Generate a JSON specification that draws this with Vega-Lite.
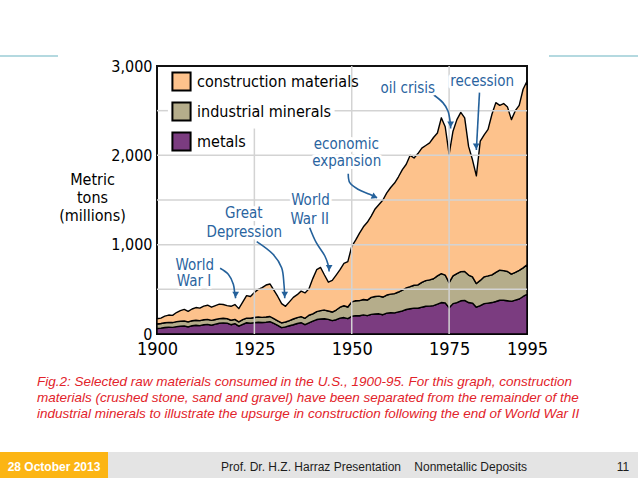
{
  "$schema": "https://vega.github.io/schema/vega-lite/v6.json",
  "padding": {"left": 0, "top": 55, "right": 0, "bottom": 0},
  "background": "#ffffff",
  "spacing": 0,
  "bounds": "full",
  "config": {"view": {"stroke": null}},
  "datasets": {
    "tons": [
      {"year":1900,"material":"metals","tons":62},{"year":1900,"material":"industrial minerals","tons":50},{"year":1900,"material":"construction materials","tons":58},
      {"year":1901,"material":"metals","tons":66},{"year":1901,"material":"industrial minerals","tons":52},{"year":1901,"material":"construction materials","tons":60},
      {"year":1902,"material":"metals","tons":72},{"year":1902,"material":"industrial minerals","tons":54},{"year":1902,"material":"construction materials","tons":74},
      {"year":1903,"material":"metals","tons":76},{"year":1903,"material":"industrial minerals","tons":54},{"year":1903,"material":"construction materials","tons":82},
      {"year":1904,"material":"metals","tons":74},{"year":1904,"material":"industrial minerals","tons":54},{"year":1904,"material":"construction materials","tons":80},
      {"year":1905,"material":"metals","tons":82},{"year":1905,"material":"industrial minerals","tons":56},{"year":1905,"material":"construction materials","tons":102},
      {"year":1906,"material":"metals","tons":86},{"year":1906,"material":"industrial minerals","tons":56},{"year":1906,"material":"construction materials","tons":120},
      {"year":1907,"material":"metals","tons":90},{"year":1907,"material":"industrial minerals","tons":56},{"year":1907,"material":"construction materials","tons":130},
      {"year":1908,"material":"metals","tons":80},{"year":1908,"material":"industrial minerals","tons":56},{"year":1908,"material":"construction materials","tons":118},
      {"year":1909,"material":"metals","tons":92},{"year":1909,"material":"industrial minerals","tons":56},{"year":1909,"material":"construction materials","tons":132},
      {"year":1910,"material":"metals","tons":98},{"year":1910,"material":"industrial minerals","tons":56},{"year":1910,"material":"construction materials","tons":142},
      {"year":1911,"material":"metals","tons":94},{"year":1911,"material":"industrial minerals","tons":56},{"year":1911,"material":"construction materials","tons":140},
      {"year":1912,"material":"metals","tons":104},{"year":1912,"material":"industrial minerals","tons":56},{"year":1912,"material":"construction materials","tons":152},
      {"year":1913,"material":"metals","tons":108},{"year":1913,"material":"industrial minerals","tons":56},{"year":1913,"material":"construction materials","tons":158},
      {"year":1914,"material":"metals","tons":98},{"year":1914,"material":"industrial minerals","tons":54},{"year":1914,"material":"construction materials","tons":148},
      {"year":1915,"material":"metals","tons":110},{"year":1915,"material":"industrial minerals","tons":52},{"year":1915,"material":"construction materials","tons":156},
      {"year":1916,"material":"metals","tons":120},{"year":1916,"material":"industrial minerals","tons":52},{"year":1916,"material":"construction materials","tons":162},
      {"year":1917,"material":"metals","tons":124},{"year":1917,"material":"industrial minerals","tons":52},{"year":1917,"material":"construction materials","tons":154},
      {"year":1918,"material":"metals","tons":122},{"year":1918,"material":"industrial minerals","tons":50},{"year":1918,"material":"construction materials","tons":146},
      {"year":1919,"material":"metals","tons":104},{"year":1919,"material":"industrial minerals","tons":50},{"year":1919,"material":"construction materials","tons":156},
      {"year":1920,"material":"metals","tons":116},{"year":1920,"material":"industrial minerals","tons":48},{"year":1920,"material":"construction materials","tons":166},
      {"year":1921,"material":"metals","tons":88},{"year":1921,"material":"industrial minerals","tons":48},{"year":1921,"material":"construction materials","tons":148},
      {"year":1922,"material":"metals","tons":108},{"year":1922,"material":"industrial minerals","tons":52},{"year":1922,"material":"construction materials","tons":196},
      {"year":1923,"material":"metals","tons":126},{"year":1923,"material":"industrial minerals","tons":52},{"year":1923,"material":"construction materials","tons":252},
      {"year":1924,"material":"metals","tons":120},{"year":1924,"material":"industrial minerals","tons":56},{"year":1924,"material":"construction materials","tons":244},
      {"year":1925,"material":"metals","tons":127},{"year":1925,"material":"industrial minerals","tons":57},{"year":1925,"material":"construction materials","tons":281},
      {"year":1926,"material":"metals","tons":132},{"year":1926,"material":"industrial minerals","tons":58},{"year":1926,"material":"construction materials","tons":310},
      {"year":1927,"material":"metals","tons":128},{"year":1927,"material":"industrial minerals","tons":58},{"year":1927,"material":"construction materials","tons":334},
      {"year":1928,"material":"metals","tons":132},{"year":1928,"material":"industrial minerals","tons":58},{"year":1928,"material":"construction materials","tons":358},
      {"year":1929,"material":"metals","tons":138},{"year":1929,"material":"industrial minerals","tons":58},{"year":1929,"material":"construction materials","tons":364},
      {"year":1930,"material":"metals","tons":118},{"year":1930,"material":"industrial minerals","tons":54},{"year":1930,"material":"construction materials","tons":318},
      {"year":1931,"material":"metals","tons":96},{"year":1931,"material":"industrial minerals","tons":52},{"year":1931,"material":"construction materials","tons":272},
      {"year":1932,"material":"metals","tons":72},{"year":1932,"material":"industrial minerals","tons":52},{"year":1932,"material":"construction materials","tons":216},
      {"year":1933,"material":"metals","tons":80},{"year":1933,"material":"industrial minerals","tons":54},{"year":1933,"material":"construction materials","tons":176},
      {"year":1934,"material":"metals","tons":92},{"year":1934,"material":"industrial minerals","tons":58},{"year":1934,"material":"construction materials","tons":210},
      {"year":1935,"material":"metals","tons":104},{"year":1935,"material":"industrial minerals","tons":64},{"year":1935,"material":"construction materials","tons":242},
      {"year":1936,"material":"metals","tons":118},{"year":1936,"material":"industrial minerals","tons":66},{"year":1936,"material":"construction materials","tons":256},
      {"year":1937,"material":"metals","tons":126},{"year":1937,"material":"industrial minerals","tons":68},{"year":1937,"material":"construction materials","tons":286},
      {"year":1938,"material":"metals","tons":104},{"year":1938,"material":"industrial minerals","tons":72},{"year":1938,"material":"construction materials","tons":284},
      {"year":1939,"material":"metals","tons":124},{"year":1939,"material":"industrial minerals","tons":86},{"year":1939,"material":"construction materials","tons":295},
      {"year":1940,"material":"metals","tons":144},{"year":1940,"material":"industrial minerals","tons":82},{"year":1940,"material":"construction materials","tons":394},
      {"year":1941,"material":"metals","tons":162},{"year":1941,"material":"industrial minerals","tons":88},{"year":1941,"material":"construction materials","tons":470},
      {"year":1942,"material":"metals","tons":168},{"year":1942,"material":"industrial minerals","tons":94},{"year":1942,"material":"construction materials","tons":483},
      {"year":1943,"material":"metals","tons":170},{"year":1943,"material":"industrial minerals","tons":98},{"year":1943,"material":"construction materials","tons":392},
      {"year":1944,"material":"metals","tons":164},{"year":1944,"material":"industrial minerals","tons":94},{"year":1944,"material":"construction materials","tons":322},
      {"year":1945,"material":"metals","tons":150},{"year":1945,"material":"industrial minerals","tons":96},{"year":1945,"material":"construction materials","tons":354},
      {"year":1946,"material":"metals","tons":160},{"year":1946,"material":"industrial minerals","tons":108},{"year":1946,"material":"construction materials","tons":392},
      {"year":1947,"material":"metals","tons":178},{"year":1947,"material":"industrial minerals","tons":122},{"year":1947,"material":"construction materials","tons":420},
      {"year":1948,"material":"metals","tons":184},{"year":1948,"material":"industrial minerals","tons":132},{"year":1948,"material":"construction materials","tons":474},
      {"year":1949,"material":"metals","tons":172},{"year":1949,"material":"industrial minerals","tons":130},{"year":1949,"material":"construction materials","tons":508},
      {"year":1950,"material":"metals","tons":198},{"year":1950,"material":"industrial minerals","tons":162},{"year":1950,"material":"construction materials","tons":620},
      {"year":1951,"material":"metals","tons":206},{"year":1951,"material":"industrial minerals","tons":166},{"year":1951,"material":"construction materials","tons":678},
      {"year":1952,"material":"metals","tons":204},{"year":1952,"material":"industrial minerals","tons":170},{"year":1952,"material":"construction materials","tons":756},
      {"year":1953,"material":"metals","tons":214},{"year":1953,"material":"industrial minerals","tons":172},{"year":1953,"material":"construction materials","tons":814},
      {"year":1954,"material":"metals","tons":206},{"year":1954,"material":"industrial minerals","tons":174},{"year":1954,"material":"construction materials","tons":870},
      {"year":1955,"material":"metals","tons":220},{"year":1955,"material":"industrial minerals","tons":190},{"year":1955,"material":"construction materials","tons":910},
      {"year":1956,"material":"metals","tons":224},{"year":1956,"material":"industrial minerals","tons":196},{"year":1956,"material":"construction materials","tons":980},
      {"year":1957,"material":"metals","tons":226},{"year":1957,"material":"industrial minerals","tons":198},{"year":1957,"material":"construction materials","tons":1026},
      {"year":1958,"material":"metals","tons":216},{"year":1958,"material":"industrial minerals","tons":198},{"year":1958,"material":"construction materials","tons":1086},
      {"year":1959,"material":"metals","tons":234},{"year":1959,"material":"industrial minerals","tons":202},{"year":1959,"material":"construction materials","tons":1144},
      {"year":1960,"material":"metals","tons":238},{"year":1960,"material":"industrial minerals","tons":208},{"year":1960,"material":"construction materials","tons":1194},
      {"year":1961,"material":"metals","tons":236},{"year":1961,"material":"industrial minerals","tons":216},{"year":1961,"material":"construction materials","tons":1238},
      {"year":1962,"material":"metals","tons":248},{"year":1962,"material":"industrial minerals","tons":222},{"year":1962,"material":"construction materials","tons":1290},
      {"year":1963,"material":"metals","tons":258},{"year":1963,"material":"industrial minerals","tons":232},{"year":1963,"material":"construction materials","tons":1350},
      {"year":1964,"material":"metals","tons":274},{"year":1964,"material":"industrial minerals","tons":242},{"year":1964,"material":"construction materials","tons":1384},
      {"year":1965,"material":"metals","tons":282},{"year":1965,"material":"industrial minerals","tons":248},{"year":1965,"material":"construction materials","tons":1470},
      {"year":1966,"material":"metals","tons":290},{"year":1966,"material":"industrial minerals","tons":256},{"year":1966,"material":"construction materials","tons":1424},
      {"year":1967,"material":"metals","tons":288},{"year":1967,"material":"industrial minerals","tons":262},{"year":1967,"material":"construction materials","tons":1470},
      {"year":1968,"material":"metals","tons":300},{"year":1968,"material":"industrial minerals","tons":278},{"year":1968,"material":"construction materials","tons":1502},
      {"year":1969,"material":"metals","tons":310},{"year":1969,"material":"industrial minerals","tons":288},{"year":1969,"material":"construction materials","tons":1512},
      {"year":1970,"material":"metals","tons":312},{"year":1970,"material":"industrial minerals","tons":294},{"year":1970,"material":"construction materials","tons":1534},
      {"year":1971,"material":"metals","tons":318},{"year":1971,"material":"industrial minerals","tons":300},{"year":1971,"material":"construction materials","tons":1582},
      {"year":1972,"material":"metals","tons":334},{"year":1972,"material":"industrial minerals","tons":316},{"year":1972,"material":"construction materials","tons":1600},
      {"year":1973,"material":"metals","tons":352},{"year":1973,"material":"industrial minerals","tons":324},{"year":1973,"material":"construction materials","tons":1744},
      {"year":1974,"material":"metals","tons":348},{"year":1974,"material":"industrial minerals","tons":312},{"year":1974,"material":"construction materials","tons":1660},
      {"year":1975,"material":"metals","tons":294},{"year":1975,"material":"industrial minerals","tons":281},{"year":1975,"material":"construction materials","tons":1435},
      {"year":1976,"material":"metals","tons":340},{"year":1976,"material":"industrial minerals","tons":310},{"year":1976,"material":"construction materials","tons":1620},
      {"year":1977,"material":"metals","tons":352},{"year":1977,"material":"industrial minerals","tons":324},{"year":1977,"material":"construction materials","tons":1724},
      {"year":1978,"material":"metals","tons":372},{"year":1978,"material":"industrial minerals","tons":326},{"year":1978,"material":"construction materials","tons":1782},
      {"year":1979,"material":"metals","tons":376},{"year":1979,"material":"industrial minerals","tons":324},{"year":1979,"material":"construction materials","tons":1720},
      {"year":1980,"material":"metals","tons":352},{"year":1980,"material":"industrial minerals","tons":308},{"year":1980,"material":"construction materials","tons":1440},
      {"year":1981,"material":"metals","tons":346},{"year":1981,"material":"industrial minerals","tons":294},{"year":1981,"material":"construction materials","tons":1310},
      {"year":1982,"material":"metals","tons":300},{"year":1982,"material":"industrial minerals","tons":265},{"year":1982,"material":"construction materials","tons":1205},
      {"year":1983,"material":"metals","tons":318},{"year":1983,"material":"industrial minerals","tons":282},{"year":1983,"material":"construction materials","tons":1560},
      {"year":1984,"material":"metals","tons":340},{"year":1984,"material":"industrial minerals","tons":300},{"year":1984,"material":"construction materials","tons":1590},
      {"year":1985,"material":"metals","tons":346},{"year":1985,"material":"industrial minerals","tons":304},{"year":1985,"material":"construction materials","tons":1640},
      {"year":1986,"material":"metals","tons":352},{"year":1986,"material":"industrial minerals","tons":310},{"year":1986,"material":"construction materials","tons":1798},
      {"year":1987,"material":"metals","tons":364},{"year":1987,"material":"industrial minerals","tons":326},{"year":1987,"material":"construction materials","tons":1900},
      {"year":1988,"material":"metals","tons":378},{"year":1988,"material":"industrial minerals","tons":336},{"year":1988,"material":"construction materials","tons":1846},
      {"year":1989,"material":"metals","tons":378},{"year":1989,"material":"industrial minerals","tons":332},{"year":1989,"material":"construction materials","tons":1870},
      {"year":1990,"material":"metals","tons":372},{"year":1990,"material":"industrial minerals","tons":328},{"year":1990,"material":"construction materials","tons":1840},
      {"year":1991,"material":"metals","tons":366},{"year":1991,"material":"industrial minerals","tons":304},{"year":1991,"material":"construction materials","tons":1730},
      {"year":1992,"material":"metals","tons":380},{"year":1992,"material":"industrial minerals","tons":310},{"year":1992,"material":"construction materials","tons":1810},
      {"year":1993,"material":"metals","tons":392},{"year":1993,"material":"industrial minerals","tons":320},{"year":1993,"material":"construction materials","tons":1848},
      {"year":1994,"material":"metals","tons":420},{"year":1994,"material":"industrial minerals","tons":320},{"year":1994,"material":"construction materials","tons":2000},
      {"year":1995,"material":"metals","tons":445},{"year":1995,"material":"industrial minerals","tons":330},{"year":1995,"material":"construction materials","tons":2055}
    ],
    "hgrid": [
      {"tons":500,"year":1900,"year_end":1995},{"tons":1000,"year":1900,"year_end":1995},{"tons":1500,"year":1900,"year_end":1995},
      {"tons":2000,"year":1900,"year_end":1995},{"tons":2500,"year":1900,"year_end":1902.8},{"tons":2500,"year":1945.6,"year_end":1995}
    ],
    "vgrid": [
      {"year":1925,"tons":0,"tons_top":2300},{"year":1950,"tons":0,"tons_top":3000},{"year":1975,"tons":0,"tons_top":3000}
    ],
    "arrows": [
      {"arrow":"wwi","step":1,"year":1916.2,"tons":736},{"arrow":"wwi","step":2,"year":1918.3,"tons":669},{"arrow":"wwi","step":3,"year":1919.6,"tons":557},{"arrow":"wwi","step":4,"year":1920.0,"tons":444},{"arrow":"wwi","step":5,"year":1920.2,"tons":400},
      {"arrow":"depression","step":1,"year":1925.6,"tons":1034},{"arrow":"depression","step":2,"year":1929.8,"tons":892},{"arrow":"depression","step":3,"year":1932.0,"tons":742},{"arrow":"depression","step":4,"year":1932.6,"tons":557},{"arrow":"depression","step":5,"year":1932.8,"tons":400},
      {"arrow":"wwii","step":1,"year":1939.2,"tons":1190},{"arrow":"wwii","step":2,"year":1940.9,"tons":1022},{"arrow":"wwii","step":3,"year":1943.1,"tons":873},{"arrow":"wwii","step":4,"year":1943.9,"tons":780},{"arrow":"wwii","step":5,"year":1944.2,"tons":700},
      {"arrow":"economic","step":1,"year":1949.1,"tons":1795},{"arrow":"economic","step":2,"year":1949.5,"tons":1694},{"arrow":"economic","step":3,"year":1951.6,"tons":1620},{"arrow":"economic","step":4,"year":1954.6,"tons":1564},{"arrow":"economic","step":5,"year":1956.5,"tons":1526},
      {"arrow":"oil","step":1,"year":1970.8,"tons":2684},{"arrow":"oil","step":2,"year":1973.4,"tons":2590},{"arrow":"oil","step":3,"year":1974.7,"tons":2497},{"arrow":"oil","step":4,"year":1975.3,"tons":2366},{"arrow":"oil","step":5,"year":1975.4,"tons":2300},
      {"arrow":"recession","step":1,"year":1982.8,"tons":2702},{"arrow":"recession","step":2,"year":1982.0,"tons":2060}
    ],
    "heads": [
      {"arrow":"wwi","year":1920.2,"tons":440},
      {"arrow":"depression","year":1932.8,"tons":440},
      {"arrow":"wwii","year":1944.2,"tons":740},
      {"arrow":"economic","year":1955.9,"tons":1535},
      {"arrow":"oil","year":1975.4,"tons":2345},
      {"arrow":"recession","year":1981.95,"tons":2100}
    ],
    "notes": [
      {"note":"World","year":1909.7,"tons":773},{"note":"War I","year":1909.5,"tons":594},
      {"note":"Great","year":1922.3,"tons":1355},{"note":"Depression","year":1922.4,"tons":1137},
      {"note":"World","year":1939.4,"tons":1501},{"note":"War II","year":1939.2,"tons":1288},
      {"note":"economic","year":1948.6,"tons":2128},{"note":"expansion","year":1948.7,"tons":1937},
      {"note":"oil crisis","year":1964.4,"tons":2758},
      {"note":"recession","year":1983.5,"tons":2833}
    ]
  },
  "vconcat": [
    {
      "hconcat": [
        {"width": 58, "height": 2, "view": {"fill": "#b4d9e0", "stroke": null}, "data": {"values": []}, "mark": "text"},
        {"width": 491, "height": 2, "data": {"values": []}, "mark": "text"},
        {"width": 89, "height": 2, "view": {"fill": "#b4d9e0", "stroke": null}, "data": {"values": []}, "mark": "text"}
      ],
      "spacing": 0,
      "bounds": "flush"
    },
    {
      "hconcat": [
        {"width": 157, "height": 268, "data": {"values": []}, "mark": "text"},
        {
          "width": 370,
          "height": 268,
          "view": {"stroke": "#111111", "strokeWidth": 2},
          "layer": [
            {
              "data": {"name": "tons"},
              "mark": {"type": "area", "stroke": "#000000", "strokeWidth": 1.4, "strokeJoin": "round"},
              "encoding": {
                "x": {"field": "year", "type": "quantitative",
                      "scale": {"domain": [1900, 1995], "nice": false, "zero": false},
                      "axis": {"values": [1900, 1925, 1950, 1975, 1995], "format": "d", "grid": false, "ticks": false, "domain": false,
                               "labelFlush": false, "labelOverlap": false, "labelFont": "DejaVu Sans Condensed, sans-serif",
                               "labelFontSize": 18, "labelColor": "#000000", "labelPadding": 6,
                               "title": " ", "titleFontSize": 10, "titlePadding": 5}},
                "y": {"field": "tons", "type": "quantitative", "stack": "zero",
                      "scale": {"domain": [0, 3000], "nice": false},
                      "axis": {"values": [0, 1000, 2000, 3000], "format": ",.0f", "grid": false, "ticks": false, "domain": false,
                               "labelFont": "DejaVu Sans Condensed, sans-serif", "labelFontSize": 16, "labelColor": "#000000", "labelPadding": 5,
                               "title": ["Metric", "tons", "(millions)"], "titleAngle": 0, "titleAlign": "center", "titleBaseline": "alphabetic",
                               "titleX": -65, "titleY": 118, "titleFont": "DejaVu Sans Condensed, sans-serif", "titleFontSize": 16,
                               "titleFontWeight": "normal", "titleColor": "#000000", "titleLineHeight": 18}},
                "color": {"field": "material", "type": "nominal",
                          "scale": {"domain": ["construction materials", "industrial minerals", "metals"], "range": ["#fdc28c", "#b5ad8b", "#7b3c80"]},
                          "legend": {"title": null, "orient": "none", "legendX": 171, "legendY": 16, "direction": "vertical",
                                     "symbolType": "square", "symbolSize": 330, "symbolStrokeColor": "#000000", "symbolStrokeWidth": 2, "symbolOpacity": 1,
                                     "labelFont": "DejaVu Sans Condensed, sans-serif", "labelFontSize": 16, "labelColor": "#000000",
                                     "labelOffset": 5, "rowPadding": 3, "padding": 0, "labelLimit": 400}},
                "order": {"field": "material", "sort": "descending"}
              }
            },
            {
              "data": {"name": "hgrid"},
              "mark": {"type": "rule", "color": "#d3d3d3", "strokeWidth": 1.5},
              "encoding": {"y": {"field": "tons", "type": "quantitative"}, "x": {"field": "year", "type": "quantitative"}, "x2": {"field": "year_end"}}
            },
            {
              "data": {"name": "vgrid"},
              "mark": {"type": "rule", "color": "#d3d3d3", "strokeWidth": 1.5},
              "encoding": {"x": {"field": "year", "type": "quantitative"}, "y": {"field": "tons", "type": "quantitative"}, "y2": {"field": "tons_top"}}
            },
            {
              "data": {"name": "arrows"},
              "mark": {"type": "line", "color": "#24619b", "strokeWidth": 1.6, "interpolate": "catmull-rom"},
              "encoding": {
                "x": {"field": "year", "type": "quantitative"},
                "y": {"field": "tons", "type": "quantitative"},
                "detail": {"field": "arrow", "type": "nominal"},
                "order": {"field": "step", "type": "quantitative"}
              }
            },
            {
              "data": {"name": "heads"},
              "transform": [{"filter": {"field": "arrow", "oneOf": ["wwi", "depression", "wwii", "oil", "recession"]}}],
              "mark": {"type": "point", "shape": "triangle-down", "filled": true, "size": 45, "color": "#24619b", "opacity": 1},
              "encoding": {"x": {"field": "year", "type": "quantitative"}, "y": {"field": "tons", "type": "quantitative"}}
            },
            {
              "data": {"name": "heads"},
              "transform": [{"filter": {"field": "arrow", "equal": "economic"}}],
              "mark": {"type": "point", "shape": "triangle-right", "angle": 25, "filled": true, "size": 45, "color": "#24619b", "opacity": 1},
              "encoding": {"x": {"field": "year", "type": "quantitative"}, "y": {"field": "tons", "type": "quantitative"}}
            },
            {
              "data": {"name": "notes"},
              "mark": {"type": "text", "font": "DejaVu Sans Condensed, sans-serif", "fontSize": 15, "baseline": "middle",
                       "color": "#ffffff", "stroke": "#ffffff", "strokeWidth": 6, "strokeJoin": "round"},
              "encoding": {"x": {"field": "year", "type": "quantitative"}, "y": {"field": "tons", "type": "quantitative"}, "text": {"field": "note", "type": "nominal"}}
            },
            {
              "data": {"name": "notes"},
              "mark": {"type": "text", "font": "DejaVu Sans Condensed, sans-serif", "fontSize": 15, "baseline": "middle", "color": "#2a64a0"},
              "encoding": {"x": {"field": "year", "type": "quantitative"}, "y": {"field": "tons", "type": "quantitative"}, "text": {"field": "note", "type": "nominal"}}
            }
          ]
        }
      ],
      "spacing": 0,
      "bounds": "flush"
    },
    {
      "title": {
        "text": [
          "Fig.2: Selected raw materials consumed in the U.S., 1900-95. For this graph, construction",
          "materials (crushed stone, sand and gravel) have been separated from the remainder of the",
          "industrial minerals to illustrate the upsurge in construction following the end of World War II"
        ],
        "anchor": "start", "frame": "group", "orient": "top", "offset": 18, "dx": 37, "baseline": "bottom",
        "font": "Liberation Sans", "fontSize": 13.5, "fontStyle": "italic", "fontWeight": "normal", "color": "#e2232a", "lineHeight": 16
      },
      "hconcat": [
        {"width": 108, "height": 29, "view": {"fill": "#fcb514", "stroke": null},
         "data": {"values": [{"label": "28 October 2013"}]},
         "mark": {"type": "text", "font": "Liberation Sans", "fontSize": 12, "fontWeight": "bold", "color": "#ffffff"},
         "encoding": {"text": {"field": "label", "type": "nominal"}}},
        {"width": 500, "height": 29, "view": {"fill": "#e4e4e4", "stroke": null},
         "data": {"values": [{"label": "Prof. Dr. H.Z. Harraz Presentation\u00a0\u00a0\u00a0\u00a0Nonmetallic Deposits"}]},
         "mark": {"type": "text", "font": "Liberation Sans", "fontSize": 12, "color": "#1c1c1c", "dx": 16},
         "encoding": {"text": {"field": "label", "type": "nominal"}}},
        {"width": 30, "height": 29, "view": {"fill": "#e4e4e4", "stroke": null},
         "data": {"values": [{"label": "11"}]},
         "mark": {"type": "text", "font": "Liberation Sans", "fontSize": 12, "color": "#1c1c1c"},
         "encoding": {"text": {"field": "label", "type": "nominal"}}}
      ],
      "spacing": 0,
      "bounds": "flush"
    }
  ]
}
